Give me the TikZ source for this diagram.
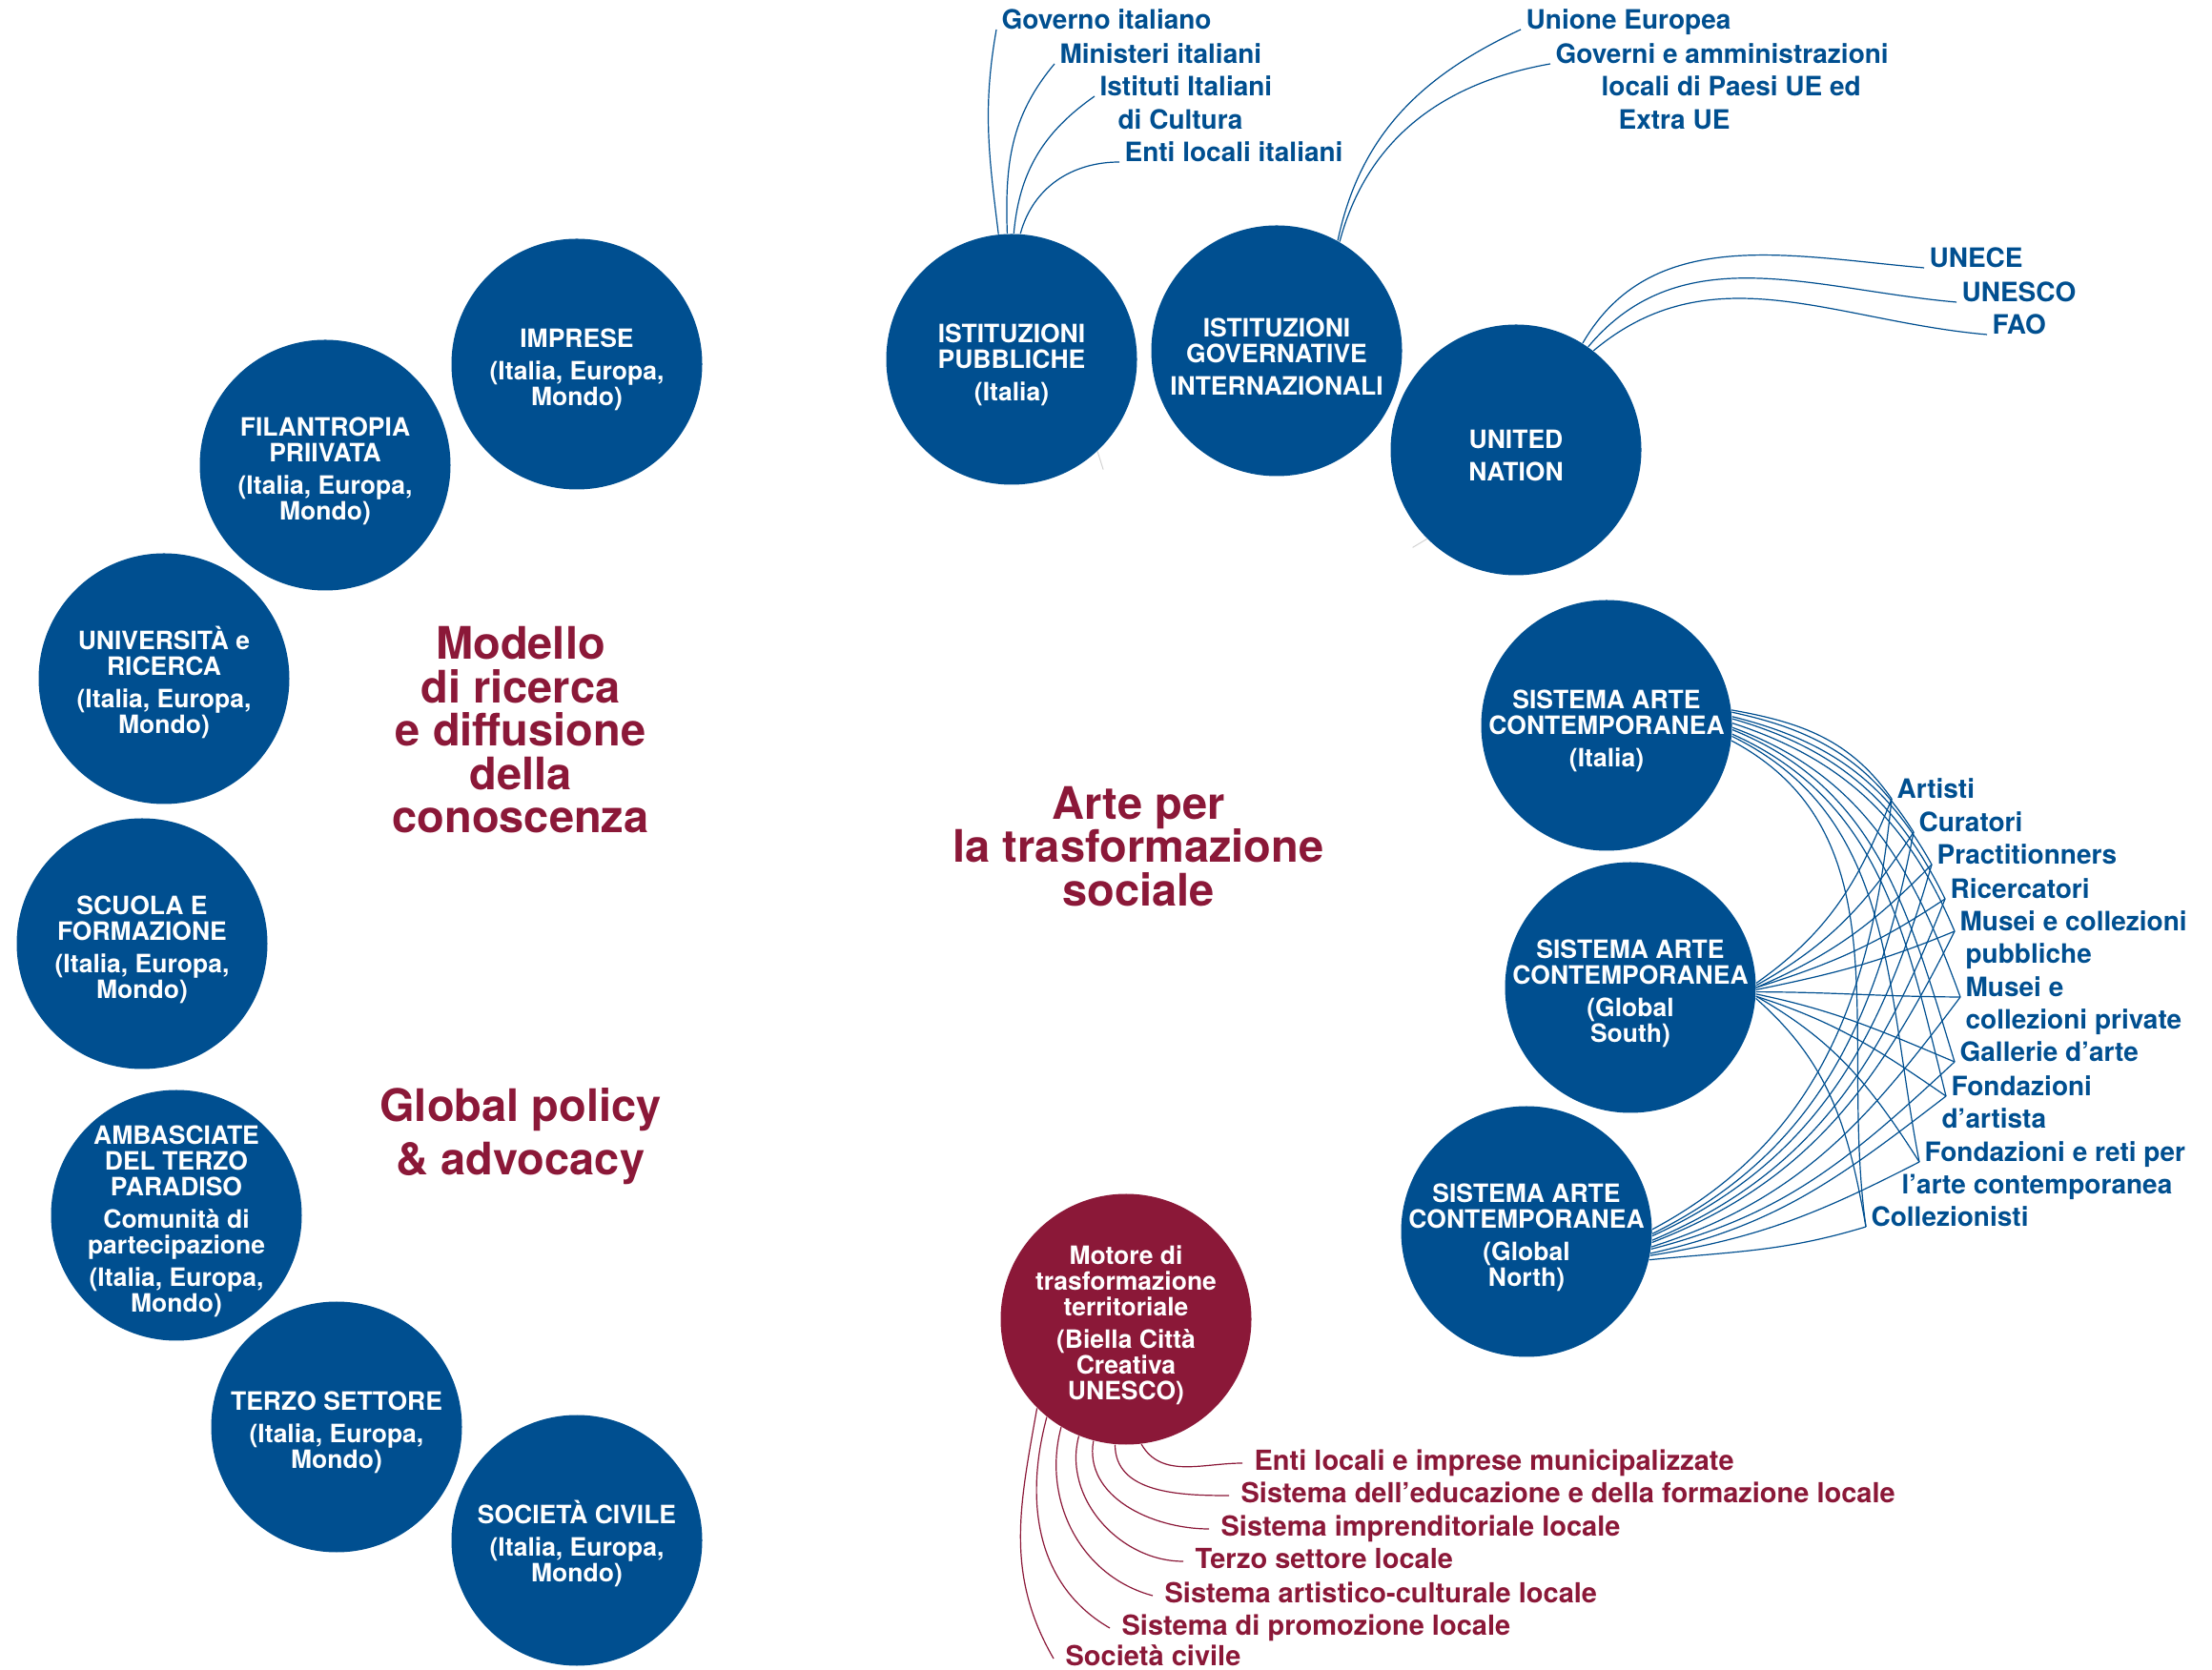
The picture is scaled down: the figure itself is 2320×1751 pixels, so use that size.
\documentclass[tikz,border=0pt]{standalone}
\usepackage{fontspec}
\setmainfont{TeX Gyre Heros}

\definecolor{blu}{RGB}{0,79,144}
\definecolor{rosso}{RGB}{139,24,56}

\tikzset{every picture/.style={line width=1.2pt}}

\begin{document}
\begin{tikzpicture}[x=1pt, y=1pt,
                    bub/.style={circle, fill=blu, text=white, minimum size=263pt, inner sep=-60pt,
                                align=center, font=\fontsize{26.5}{27}\selectfont\bfseries},
                    head/.style={text=rosso, align=center, font=\fontsize{47}{45.5}\selectfont\bfseries},
                    lab/.style={anchor=base west, text=blu, inner xsep=5pt, inner ysep=0pt,
                                font=\fontsize{28}{30}\selectfont\bfseries},
                    rlab/.style={anchor=base west, text=rosso, inner xsep=12pt, inner ysep=0pt,
                                 text height=19pt, text depth=5pt,
                                 font=\fontsize{29}{30}\selectfont\bfseries},
                    link/.style={blu, line width=1.2pt},
                    rlink/.style={rosso, line width=1.2pt}]
  \useasboundingbox (0,0) rectangle (2320,1751);
  \def\tg{\mbox{}\\[5pt]}

  % left circles
  \node[bub] (imp) at (605,1369) {\tg IMPRESE\\[7pt](Italia, Europa,\\Mondo)};
  \node[bub] (fil) at (341,1263) {\tg FILANTROPIA\\PRIIVATA\\[7pt](Italia, Europa,\\Mondo)};
  \node[bub] (uni) at (172,1039) {\tg UNIVERSITÀ e\\RICERCA\\[7pt](Italia, Europa,\\Mondo)};
  \node[bub] (scu) at (149,761) {\tg SCUOLA E\\FORMAZIONE\\[7pt](Italia, Europa,\\Mondo)};
  \node[bub] (amb) at (185,476) {\tg AMBASCIATE\\DEL TERZO\\PARADISO\\[7pt]Comunità di\\partecipazione\\[7pt](Italia, Europa,\\Mondo)};
  \node[bub] (ter) at (353,254) {\tg TERZO SETTORE\\[7pt](Italia, Europa,\\Mondo)};
  \node[bub] (soc) at (605,135) {\tg SOCIETÀ CIVILE\\[7pt](Italia, Europa,\\Mondo)};

  % right circles
  \node[bub] (ip) at (1061,1374) {\tg ISTITUZIONI\\PUBBLICHE\\[7pt](Italia)};
  \node[bub] (ig) at (1339,1383) {\tg ISTITUZIONI\\GOVERNATIVE\\[7pt]INTERNAZIONALI};
  \node[bub] (un) at (1590,1279) {\tg UNITED\\[7pt]NATION};
  \node[bub] (sI) at (1685,990) {\tg SISTEMA ARTE\\CONTEMPORANEA\\[7pt](Italia)};
  \node[bub] (sS) at (1710,715) {\tg SISTEMA ARTE\\CONTEMPORANEA\\[7pt](Global\\South)};
  \node[bub] (sN) at (1601,459) {\tg SISTEMA ARTE\\CONTEMPORANEA\\[7pt](Global\\North)};
  \node[bub, fill=rosso] (mot) at (1181,367) {\tg Motore di\\trasformazione\\territoriale\\[7pt](Biella Città\\Creativa\\UNESCO)};

  % headings
  \node[head] (hMod) at (546,985) {Modello\\di ricerca\\e diffusione\\della\\conoscenza};
  \node[head] (hArt) at (1194,863) {Arte per\\la trasformazione\\sociale};
  \node[head, font=\fontsize{47}{56}\selectfont\bfseries] (hGlo) at (546,559) {Global policy\\\& advocacy};

  % labels on top
  \node[lab] (lGov) at (1045,1720) {Governo italiano};
  \node[lab] (lMin) at (1106,1684) {Ministeri italiani};
  \node[lab] (lIst) at (1148,1650) {Istituti Italiani};
  \node[lab] (lCul) at (1167,1615) {di Cultura};
  \node[lab] (lEnt) at (1174,1581) {Enti locali italiani};
  \node[lab] (lUE) at (1595,1720) {Unione Europea};
  \node[lab] (lGoe) at (1626,1684) {Governi e amministrazioni};
  \node[lab] (lLoc) at (1674,1650) {locali di Paesi UE ed};
  \node[lab] (lExt) at (1692,1615) {Extra UE};
  \node[lab] (lUnece) at (2018,1470) {UNECE};
  \node[lab] (lUnesco) at (2052,1434) {UNESCO};
  \node[lab] (lFao) at (2084,1400) {FAO};

  % labels of the art system
  \node[lab] (lArt) at (1984,913) {Artisti};
  \node[lab] (lCur) at (2007,878) {Curatori};
  \node[lab] (lPra) at (2026,844) {Practitionners};
  \node[lab] (lRic) at (2040,808) {Ricercatori};
  \node[lab] (lMpu) at (2050,774) {Musei e collezioni};
  \node[lab] (lMpuB) at (2056,740) {pubbliche};
  \node[lab] (lMpr) at (2056,705) {Musei e};
  \node[lab] (lMprB) at (2056,671) {collezioni private};
  \node[lab] (lGal) at (2050,637) {Gallerie d’arte};
  \node[lab] (lFda) at (2041,601) {Fondazioni};
  \node[lab] (lFdaB) at (2031,567) {d’artista};
  \node[lab] (lFre) at (2013,532) {Fondazioni e reti per};
  \node[lab] (lFreB) at (1989,498) {l’arte contemporanea};
  \node[lab] (lCol) at (1957,464) {Collezionisti};

  % local labels
  \node[rlab] (lEnl) at (1303,209) {Enti locali e imprese municipalizzate};
  \node[rlab] (lEdu) at (1289,175) {Sistema dell’educazione e della formazione locale};
  \node[rlab] (lImp) at (1268,140) {Sistema imprenditoriale locale};
  \node[rlab] (lTer) at (1241,106) {Terzo settore locale};
  \node[rlab] (lAcu) at (1209,70) {Sistema artistico-culturale locale};
  \node[rlab] (lPro) at (1164,36) {Sistema di promozione locale};
  \node[rlab] (lSoc) at (1105,4) {Società civile};

  % public institutions
  \draw[link] (ip.96) to[out=97, in=-100] (lGov.base west);
  \draw[link] (ip.92) to[out=92, in=-130] (lMin.base west);
  \draw[link] (ip.89) to[out=85, in=-145] (lIst.base west);
  \draw[link] (ip.86) to[out=75, in=180] (lEnt.base west);

  % international institutions
  \draw[link] (ig.61) to[out=78, in=-155] (lUE.base west);
  \draw[link] (ig.60) to[out=75, in=-170] (lGoe.base west);
  \draw[link] (un.58) to[out=60, in=175] (lUnece.base west);
  \draw[link] (un.55) to[out=50, in=175] (lUnesco.base west);
  \draw[link] (un.52) to[out=40, in=175] (lFao.base west);

  % stray marks
  \draw[gray!35, line width=1pt] (ip.-47) -- ++(6,-19);
  \draw[gray!35, line width=1pt] (un.-135) -- ++(-15,-9);

  % art system web
  \foreach \k/\lab/\ly [evaluate=\k as \aI using {int(round(7-1.5*(\k-1)))},
                        evaluate=\k as \oI using {-10-2*(\k-1)},
                        evaluate=\k as \iI using {125-3*(\k-1)},
                        evaluate=\k as \aS using {int(round(2-0.8*(\k-1)))},
                        evaluate=\ly as \oS using {0.17*(\ly-706)},
                        evaluate=\ly as \iS using {180+0.33*(\ly-706)},
                        evaluate=\k as \aN using {int(round(1-1.5*(\k-1)))},
                        evaluate=\ly as \oN using {5+0.05*(\ly-451)},
                        evaluate=\ly as \iN using {195+0.15*(\ly-451)}]
              in {1/lArt/913, 2/lCur/878, 3/lPra/844, 4/lRic/808, 5/lMpu/774,
                  6/lMpr/705, 7/lGal/637, 8/lFda/601, 9/lFre/532, 10/lCol/464}{
    \draw[link] (sI.\aI) to[out=\oI, in=\iI] (\lab.base west);
    \draw[link] (sS.\aS) to[out=\oS, in=\iS] (\lab.base west);
    \draw[link] (sN.\aN) to[out=\oN, in=\iN] (\lab.base west);
  }

  % local system
  \draw[rlink] (mot.-83) to[out=-60, in=180] (lEnl.west);
  \draw[rlink] (mot.-95) to[out=-90, in=180] (lEdu.west);
  \draw[rlink] (mot.-105) to[out=-100, in=180] (lImp.west);
  \draw[rlink] (mot.-112) to[out=-105, in=180] (lTer.west);
  \draw[rlink] (mot.-121) to[out=-105, in=165] (lAcu.west);
  \draw[rlink] (mot.-129) to[out=-105, in=150] (lPro.west);
  \draw[rlink] (mot.-135) to[out=-100, in=120] (lSoc.west);

\end{tikzpicture}
\end{document}
